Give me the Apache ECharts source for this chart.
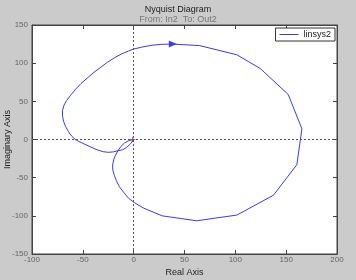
<!DOCTYPE html>
<html><head><meta charset="utf-8">
<script src="https://cdn.jsdelivr.net/npm/echarts@6/dist/echarts.min.js"></script>
<style>html,body{margin:0;padding:0;background:#cbcbcb}#c{width:356px;height:280px}</style>
</head><body><div id="c"></div>
<script>
const realPart = [0,-3,-7,-11,-15.5,-20,-25,-30,-36,-43,-50,-54,-57.5,-61,-64,-67,-69,-70,-70,-68.5,-66,-62,-57,-52,-46,-40,-33,-26,-19,-12,-5,0,8,18,28,38.5,65,101.5,124.5,152,165.5,160.5,137.5,101.5,62,28,10,1.5,-5,-10,-14,-17,-19,-20.5,-20.7,-19.5,-17.8,-15.5,-12.5,-9,-4.5,0];
const imagPart = [0,-5.5,-10.5,-13.5,-14.7,-16.2,-16.8,-16,-13.5,-9.4,-5,-2.5,0,4.5,10,17,24,31,38,45,51,58,66,73,80,87,94,101,107,112,116,118.5,121,123.5,124.7,125,123,111,93,59,14,-33,-73,-99,-106.5,-100,-90,-83.5,-77,-69,-62,-54,-47,-40,-33.5,-26,-20.5,-14.7,-9,-4.5,-1.3,0];
const arrowPoint = [[38.5,125]];
const criticalPoint = [[-1,0]];
const xTicks = [-100,200,50];
const yTicks = [-150,150,50];
const seriesName = 'linsys2';

const curve = realPart.map((x,i)=>[x,imagPart[i]]);
const font = 'Liberation Sans, Arial, sans-serif';
const chart = echarts.init(document.getElementById('c'));
const axisCommon = {
  axisLine:{show:true,onZero:false,lineStyle:{color:'#444',width:1}},
  axisTick:{show:true,inside:true,length:4,lineStyle:{color:'#444'}},
  splitLine:{show:false}
};
chart.setOption({
  backgroundColor:'#cbcbcb',
  animation:false,
  title:{text:'Nyquist Diagram',subtext:'From: In2  To: Out2',left:'center',top:0,itemGap:1,
    textStyle:{fontSize:9,fontWeight:'normal',color:'#222',fontFamily:font},
    subtextStyle:{fontSize:9,color:'#777',fontFamily:font}},
  legend:{data:[seriesName],right:21,top:28,itemWidth:19,itemHeight:8,padding:[2,4,2,4],
    backgroundColor:'#fff',borderColor:'#333',borderWidth:1,borderRadius:0,
    textStyle:{fontSize:9,color:'#222',fontFamily:font},icon:'path://M0,4L19,4L19,5L0,5Z'},
  grid:{left:32,right:19,top:25,bottom:26,containLabel:false,outerBoundsMode:'none',
    backgroundColor:'#fff',show:true,borderColor:'#444',borderWidth:1},
  xAxis:[
    Object.assign({type:'value',min:xTicks[0],max:xTicks[1],interval:xTicks[2],position:'bottom',
      name:'Real Axis',nameLocation:'middle',nameGap:14,nameMoveOverlap:false,nameTextStyle:{fontSize:9,color:'#222',fontFamily:font},
      axisLabel:{fontSize:8,color:'#666',margin:2,fontFamily:font}},axisCommon),
    Object.assign({type:'value',min:xTicks[0],max:xTicks[1],interval:xTicks[2],position:'top',axisLabel:{show:false}},axisCommon)
  ],
  yAxis:[
    Object.assign({type:'value',min:yTicks[0],max:yTicks[1],interval:yTicks[2],position:'left',
      name:'Imaginary Axis',nameLocation:'middle',nameGap:20,nameMoveOverlap:false,nameTextStyle:{fontSize:9,color:'#222',fontFamily:font},
      axisLabel:{fontSize:8,color:'#666',margin:4,fontFamily:font}},axisCommon),
    Object.assign({type:'value',min:yTicks[0],max:yTicks[1],interval:yTicks[2],position:'right',axisLabel:{show:false}},axisCommon)
  ],
  series:[
    {name:seriesName,type:'line',data:curve,showSymbol:false,symbol:'none',smooth:false,
      lineStyle:{color:'#3a3af0',width:1},itemStyle:{color:'#3a3af0'},
      markLine:{silent:true,symbol:'none',label:{show:false},
        lineStyle:{color:'#555',type:[2,2],width:1},
        data:[{xAxis:0},{yAxis:0}]}},
    {type:'scatter',data:arrowPoint,symbol:'triangle',symbolSize:[7,8],symbolRotate:-90,
      itemStyle:{color:'#1010e0'},silent:true},
    {type:'scatter',data:criticalPoint,symbol:'path://M4,0L6,0L6,4L10,4L10,6L6,6L6,10L4,10L4,6L0,6L0,4L4,4Z',symbolSize:5,
      itemStyle:{color:'#e02020'},silent:true}
  ]
});
</script></body></html>
